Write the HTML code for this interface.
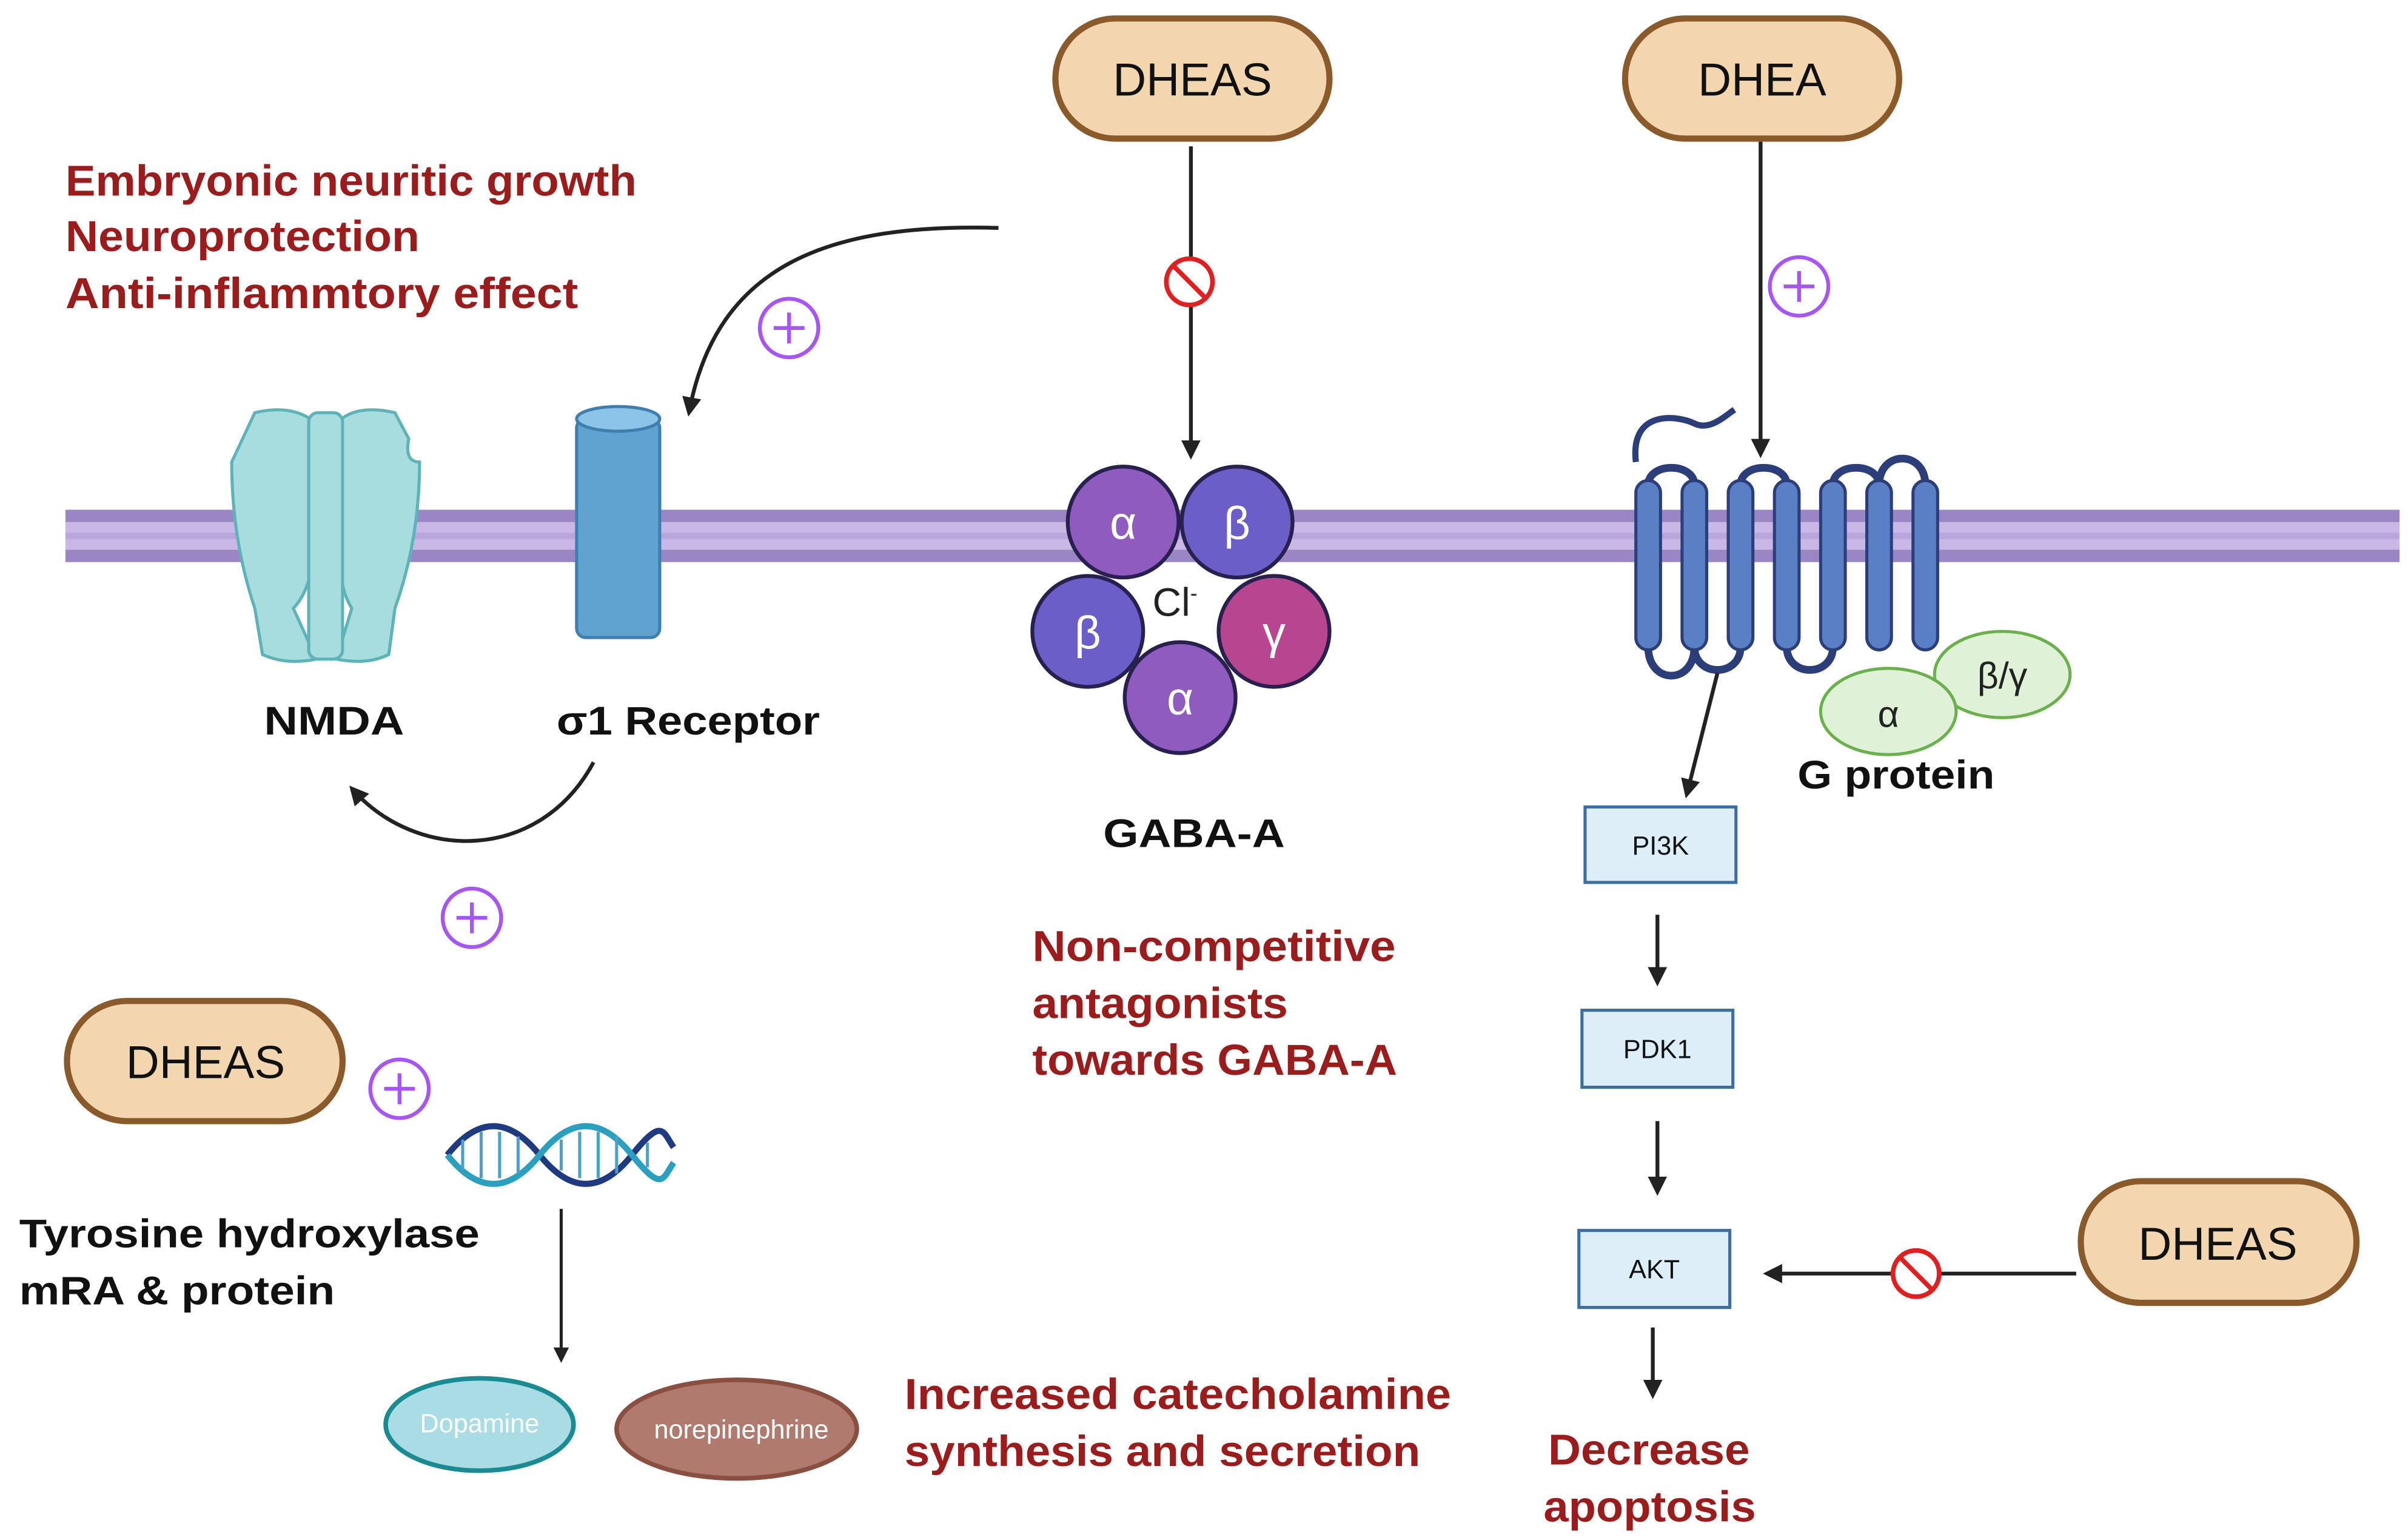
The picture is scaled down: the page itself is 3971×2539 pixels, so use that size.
<!DOCTYPE html>
<html><head><meta charset="utf-8"><style>
html,body{margin:0;padding:0;background:#fff;}
svg{display:block;}
text{font-family:"Liberation Sans",sans-serif;}
.red{fill:#9b1c1c;font-weight:bold;font-size:28px;}
.blk{fill:#111;font-weight:bold;font-size:26px;}
.pill{fill:#f2d6b0;stroke:#8b5a2b;stroke-width:4;}
.pt{font-size:30px;fill:#111;text-anchor:middle;}
.ln{stroke:#222;stroke-width:2.5;fill:none;}
.box{fill:#ddeef9;stroke:#3a6ea5;stroke-width:2;}
.bt{font-size:17px;fill:#111;text-anchor:middle;}
</style></head><body>
<svg width="3971" height="2539" viewBox="0 0 1563 1000" xmlns="http://www.w3.org/2000/svg">
<defs>
<marker id="ah" viewBox="0 0 10 10" refX="8" refY="5" markerWidth="5" markerHeight="5" orient="auto"><path d="M0,0L10,5L0,10z" fill="#222"/></marker>
<g id="plus"><circle r="19" fill="#fff" stroke="#a855f7" stroke-width="2.5"/><path d="M-10,0H10M0,-10V10" stroke="#a855f7" stroke-width="2.5"/></g>
<g id="inh"><circle r="15" fill="#fff" stroke="#e02020" stroke-width="3"/><path d="M-10,-10L10,10" stroke="#e02020" stroke-width="3"/></g>
</defs>
<rect x="42" y="331" width="1516" height="34" fill="#9b86c4"/>
<rect x="42" y="339" width="1516" height="18" fill="#c9b8e6"/>
<rect x="42" y="346" width="1516" height="4" fill="#b9a6dc"/>
<rect class="pill" x="685" y="12" width="178" height="78" rx="39"/><text class="pt" x="774" y="62">DHEAS</text>
<rect class="pill" x="1055" y="12" width="178" height="78" rx="39"/><text class="pt" x="1144" y="62">DHEA</text>
<rect class="pill" x="43" y="650" width="179" height="78" rx="39"/><text class="pt" x="133" y="700">DHEAS</text>
<rect class="pill" x="1351" y="767" width="179" height="79" rx="39"/><text class="pt" x="1440" y="818">DHEAS</text>
<text class="red" x="42" y="127" textLength="371" lengthAdjust="spacingAndGlyphs">Embryonic neuritic growth</text>
<text class="red" x="42" y="163" textLength="230" lengthAdjust="spacingAndGlyphs">Neuroprotection</text>
<text class="red" x="42" y="200" textLength="333" lengthAdjust="spacingAndGlyphs">Anti-inflammtory effect</text>
<text class="red" x="670" y="624" textLength="236" lengthAdjust="spacingAndGlyphs">Non-competitive</text>
<text class="red" x="670" y="661" textLength="166" lengthAdjust="spacingAndGlyphs">antagonists</text>
<text class="red" x="670" y="698" textLength="237" lengthAdjust="spacingAndGlyphs">towards GABA-A</text>
<text class="red" x="587" y="915" textLength="355" lengthAdjust="spacingAndGlyphs">Increased catecholamine</text>
<text class="red" x="587" y="952" textLength="335" lengthAdjust="spacingAndGlyphs">synthesis and secretion</text>
<text class="red" x="1005" y="951" textLength="131" lengthAdjust="spacingAndGlyphs">Decrease</text>
<text class="red" x="1002" y="988" textLength="138" lengthAdjust="spacingAndGlyphs">apoptosis</text>
<path class="ln" d="M648,148 C540,145 465,170 447,268" marker-end="url(#ah)"/>
<use href="#plus" x="512" y="213"/>
<path class="ln" d="M773,95 V296" marker-end="url(#ah)"/>
<use href="#inh" x="772" y="183"/>
<path class="ln" d="M1143,92 V295" marker-end="url(#ah)"/>
<use href="#plus" x="1168" y="186"/>
<path class="ln" d="M385,495 C350,560 270,560 228,512" marker-end="url(#ah)"/>
<use href="#plus" x="306" y="596"/>
<use href="#plus" x="259" y="707"/>
<g fill="#a8dde0" stroke="#5fb3b8" stroke-width="2">
<path d="M165,268 Q190,262 205,275 L205,335 Q205,380 190,395 L205,428 Q185,432 170,425 L165,395 Q150,350 150,300 Z"/>
<path d="M256,268 Q230,262 218,275 L218,335 Q218,380 228,395 L218,428 Q238,432 252,425 L256,395 Q272,350 272,300 Q262,300 265,285 Z"/>
<rect x="200" y="268" width="22" height="160" rx="6"/>
</g>
<text class="blk" x="171" y="477" textLength="91" lengthAdjust="spacingAndGlyphs">NMDA</text>
<rect x="374" y="272" width="54" height="142" rx="6" fill="#5fa3d0" stroke="#3f7fb0" stroke-width="2"/>
<ellipse cx="401" cy="272" rx="27" ry="8" fill="#8cc4e8" stroke="#3f7fb0" stroke-width="2"/>
<text class="blk" x="361" y="477" textLength="171" lengthAdjust="spacingAndGlyphs">σ1 Receptor</text>
<g stroke="#2a2050" stroke-width="2.5">
<circle cx="729" cy="339" r="36" fill="#8e5cbf"/>
<circle cx="803" cy="339" r="36" fill="#6a5fc8"/>
<circle cx="706" cy="410" r="36" fill="#6a5fc8"/>
<circle cx="827" cy="410" r="36" fill="#b8468f"/>
<circle cx="766" cy="453" r="36" fill="#8e5cbf"/>
</g>
<g fill="#fff" font-size="30" text-anchor="middle">
<text x="729" y="350">α</text><text x="803" y="350">β</text><text x="706" y="421">β</text><text x="827" y="421">γ</text><text x="766" y="464">α</text>
</g>
<text x="748" y="400" font-size="26" fill="#222">Cl<tspan font-size="14" dy="-10">-</tspan></text>
<text class="blk" x="716" y="550" textLength="118" lengthAdjust="spacingAndGlyphs">GABA-A</text>
<path d="M1062,300 C1058,265 1090,270 1100,275 C1110,280 1120,270 1126,266" stroke="#2c3e7a" stroke-width="4" fill="none"/>
<g fill="none" stroke="#2c3e7a" stroke-width="5">
<path d="M1070,315 C1070,300 1100,300 1100,315"/>
<path d="M1130,315 C1130,300 1160,300 1160,315"/>
<path d="M1190,315 C1190,300 1220,300 1220,315"/>
<path d="M1220,315 C1220,292 1250,292 1250,315"/>
<path d="M1100,420 C1100,440 1130,440 1130,420"/>
<path d="M1160,420 C1160,440 1190,440 1190,420"/>
<path d="M1070,420 C1070,445 1100,445 1100,420"/>
</g>
<g fill="#5b7fc4" stroke="#2c3e7a" stroke-width="2">
<rect x="1062" y="312" width="16" height="110" rx="8"/>
<rect x="1092" y="312" width="16" height="110" rx="8"/>
<rect x="1122" y="312" width="16" height="110" rx="8"/>
<rect x="1152" y="312" width="16" height="110" rx="8"/>
<rect x="1182" y="312" width="16" height="110" rx="8"/>
<rect x="1212" y="312" width="16" height="110" rx="8"/>
<rect x="1242" y="312" width="16" height="110" rx="8"/>
</g>
<ellipse cx="1300" cy="438" rx="44" ry="28" fill="#dff2d8" stroke="#6ab04c" stroke-width="2"/>
<ellipse cx="1226" cy="462" rx="44" ry="28" fill="#dff2d8" stroke="#6ab04c" stroke-width="2"/>
<text x="1226" y="472" font-size="24" text-anchor="middle" fill="#222">α</text>
<text x="1300" y="447" font-size="24" text-anchor="middle" fill="#222">β/γ</text>
<text class="blk" x="1167" y="512" textLength="128" lengthAdjust="spacingAndGlyphs">G protein</text>
<path class="ln" d="M1115,437 L1095,516" marker-end="url(#ah)"/>
<rect class="box" x="1029" y="524" width="98" height="49"/><text class="bt" x="1078" y="555">PI3K</text>
<rect class="box" x="1027" y="656" width="98" height="50"/><text class="bt" x="1076" y="687">PDK1</text>
<rect class="box" x="1025" y="799" width="98" height="50"/><text class="bt" x="1074" y="830">AKT</text>
<path class="ln" d="M1076,594 V638" marker-end="url(#ah)"/>
<path class="ln" d="M1076,728 V774" marker-end="url(#ah)"/>
<path class="ln" d="M1073,862 V906" marker-end="url(#ah)"/>
<path class="ln" d="M1348,827 H1147" marker-end="url(#ah)"/>
<use href="#inh" x="1244" y="827"/>
<g fill="none" stroke-width="4">
<path d="M290,750 C310,725 330,725 350,750 S390,775 410,750 S430,735 437,745" stroke="#1f3a80"/>
<path d="M290,750 C310,775 330,775 350,750 S390,725 410,750 S430,765 437,755" stroke="#2a9fc0"/>
</g>
<g stroke="#4aa0c8" stroke-width="2">
<path d="M300,740V760M312,735V765M324,735V765M336,738V762M364,740V760M376,735V765M388,735V765M400,738V762M420,742V758"/>
</g>
<text class="blk" x="12" y="810" textLength="299" lengthAdjust="spacingAndGlyphs">Tyrosine hydroxylase</text>
<text class="blk" x="12" y="847" textLength="205" lengthAdjust="spacingAndGlyphs">mRA &amp; protein</text>
<path class="ln" d="M364,785 V883" marker-end="url(#ah)" style="stroke-width:2"/>
<ellipse cx="311" cy="925" rx="61" ry="30" fill="#a9dce3" stroke="#1a8a93" stroke-width="3"/>
<text x="311" y="930" font-size="17" fill="#fff" text-anchor="middle">Dopamine</text>
<ellipse cx="478" cy="928" rx="78" ry="32" fill="#b07a6e" stroke="#8a4f40" stroke-width="3"/>
<text x="481" y="934" font-size="17" fill="#fff" text-anchor="middle">norepinephrine</text>
</svg>
</body></html>
